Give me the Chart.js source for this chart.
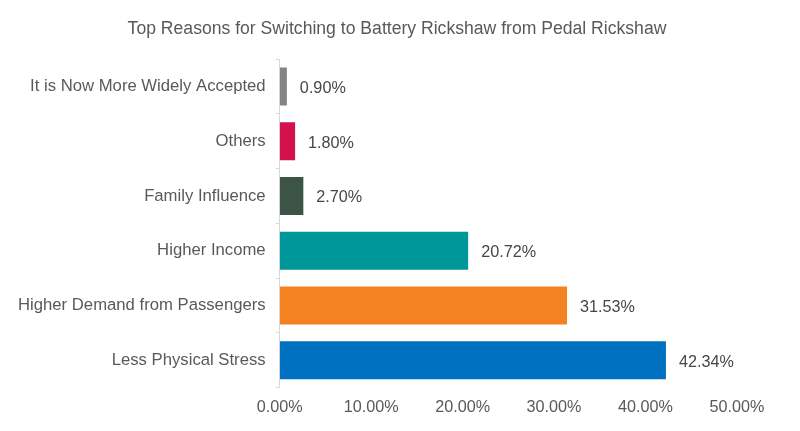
<!DOCTYPE html>
<html>
<head>
<meta charset="utf-8">
<script src="https://cdn.jsdelivr.net/npm/chart.js@4/dist/chart.umd.min.js"></script>
<style>
  html, body { margin: 0; padding: 0; background: #ffffff; }
  #wrap { width: 800px; height: 431px; }
</style>
</head>
<body>
<div id="wrap"><canvas id="canvas"></canvas></div>
<script>
var reasons = [
  'It is Now More Widely Accepted',
  'Others',
  'Family Influence',
  'Higher Income',
  'Higher Demand from Passengers',
  'Less Physical Stress'
];
var shares = [0.90, 1.80, 2.70, 20.72, 31.53, 42.34];
var barColors = ['#848484', '#d3124c', '#3b5446', '#00979b', '#f58220', '#0070c0'];
var xTicks = [0, 10, 20, 30, 40, 50];

var fontFamily = '"Liberation Sans", Arial, sans-serif';

// draws the percentage next to each bar end
var valueLabels = {
  id: 'valueLabels',
  afterDatasetsDraw: function(chart) {
    var ctx = chart.ctx;
    var meta = chart.getDatasetMeta(0);
    ctx.save();
    ctx.font = '16.2px ' + fontFamily;
    ctx.fillStyle = '#474747';
    ctx.textAlign = 'left';
    ctx.textBaseline = 'middle';
    meta.data.forEach(function(bar, i) {
      ctx.fillText(shares[i].toFixed(2) + '%', bar.x + 12, bar.y + 2);
    });
    ctx.restore();
  }
};

window.onload = function() {
  var ctx = document.getElementById('canvas').getContext('2d');
  window.myBar = new Chart(ctx, {
    type: 'bar',
    data: {
      labels: reasons,
      datasets: [{
        label: 'Share',
        data: shares,
        backgroundColor: barColors,
        borderColor: '#ffffff',
        borderWidth: 1,
        categoryPercentage: 1,
        barPercentage: 0.73
      }]
    },
    plugins: [valueLabels],
    options: {
      indexAxis: 'y',
      responsive: true,
      maintainAspectRatio: false,
      animation: false,
      layout: {
        padding: { left: 8, right: 14, top: 0, bottom: 4 }
      },
      plugins: {
        legend: { display: false },
        tooltip: { enabled: false },
        title: {
          display: true,
          text: 'Top Reasons for Switching to Battery Rickshaw from Pedal Rickshaw',
          color: '#595959',
          font: { family: fontFamily, size: 17.6, weight: 'normal' },
          padding: { top: 19, bottom: 19 }
        }
      },
      scales: {
        x: {
          min: 0,
          max: 50,
          afterBuildTicks: function(axis) {
            axis.ticks = xTicks.map(function(v) { return { value: v }; });
          },
          // keep the plot narrower on the right than the title box
          afterFit: function(axis) {
            axis.paddingRight = 63;
          },
          grid: { display: false, drawTicks: false },
          border: { display: false },
          ticks: {
            color: '#595959',
            padding: 10,
            font: { family: fontFamily, size: 16.2 },
            callback: function(v) { return v.toFixed(2) + '%'; }
          }
        },
        y: {
          grid: {
            offset: true,
            drawOnChartArea: false,
            drawTicks: true,
            tickLength: 4,
            color: '#d9d9d9'
          },
          border: { display: true, color: '#d9d9d9' },
          ticks: {
            color: '#595959',
            padding: 10,
            font: { family: fontFamily, size: 16.7 }
          }
        }
      }
    }
  });
};
</script>
</body>
</html>
